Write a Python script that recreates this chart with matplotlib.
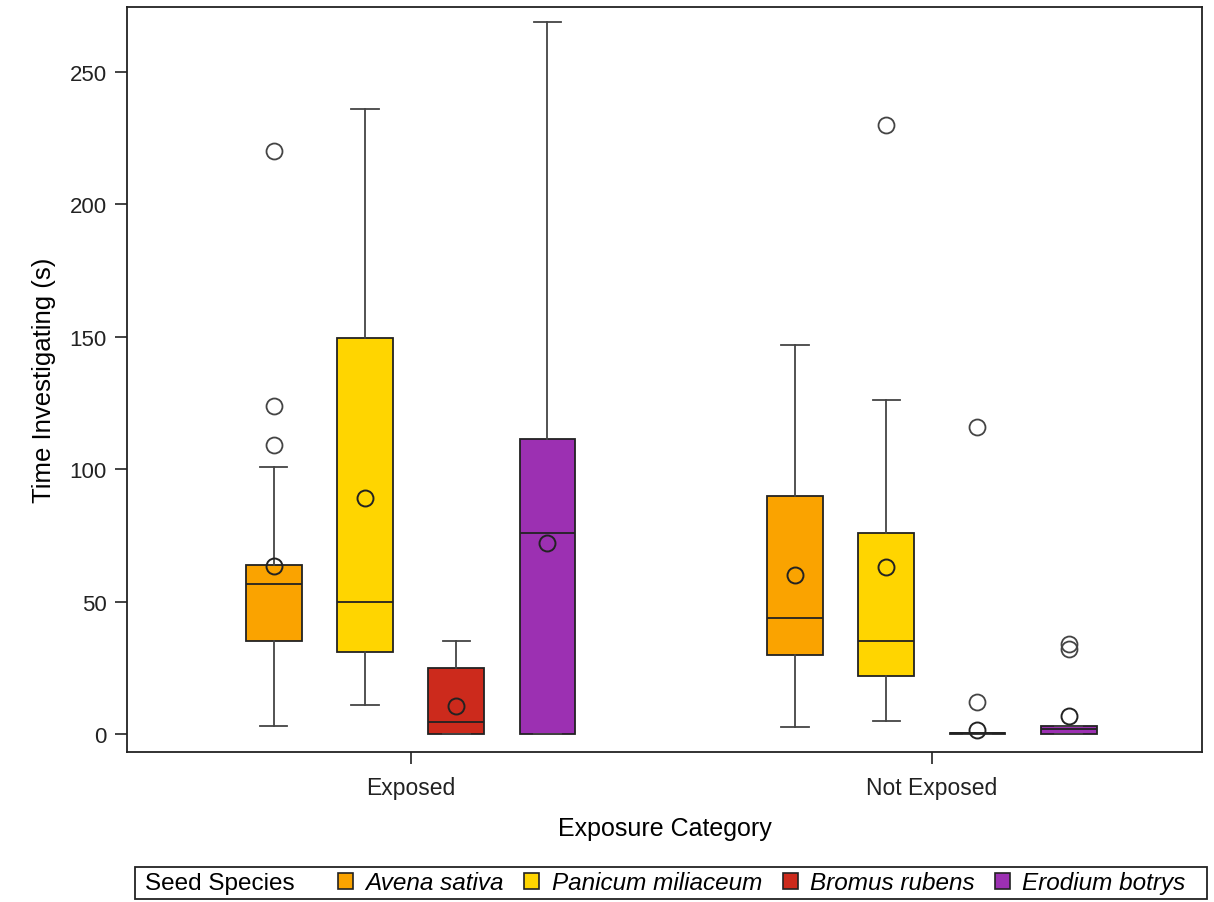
import matplotlib
matplotlib.use('Agg')
import matplotlib.pyplot as plt
from matplotlib.patches import Patch, Rectangle

plt.rcParams['font.family'] = ['Liberation Sans', 'DejaVu Sans']

categories = ['Exposed', 'Not Exposed']
species = ['Avena sativa', 'Panicum miliaceum', 'Bromus rubens', 'Erodium botrys']
colors = ['#FAA300', '#FFD500', '#CC2A1C', '#9C30B2']

# box statistics per category, one entry per species
whislo = [[3, 11, 0, 0], [2.5, 5, 0, 0]]
q1 = [[35, 31, 0, 0], [30, 22, 0, 0]]
med = [[56.5, 50, 4.5, 76], [44, 35, 0.3, 2]]
q3 = [[64, 149.5, 25, 111.5], [90, 76, 0.6, 3]]
whishi = [[101, 236, 35, 269], [147, 126, 0.6, 3]]
means = [[63.5, 89, 10.5, 72], [60, 63, 1.5, 7]]
fliers = [[[109, 124, 220], [], [], []], [[], [230], [12, 116], [32, 34]]]

fig, ax = plt.subplots(figsize=(12.14, 9.03), dpi=100)
fig.subplots_adjust(left=0.1046, right=0.990, top=0.991, bottom=0.166)

offsets = [-0.2625, -0.0875, 0.0875, 0.2625]
for ci in range(len(categories)):
    for si in range(len(species)):
        st = [{'whislo': whislo[ci][si], 'q1': q1[ci][si], 'med': med[ci][si],
               'q3': q3[ci][si], 'whishi': whishi[ci][si], 'mean': means[ci][si],
               'fliers': fliers[ci][si]}]
        ax.bxp(st, positions=[ci + offsets[si]], widths=0.107, patch_artist=True,
               showmeans=True, manage_ticks=False,
               boxprops=dict(facecolor=colors[si], edgecolor='#222222', linewidth=1.3),
               medianprops=dict(color='#222222', linewidth=1.3),
               whiskerprops=dict(color='#444444', linewidth=1.3),
               capprops=dict(color='#444444', linewidth=1.3),
               capwidths=0.052,
               meanprops=dict(marker='o', markerfacecolor='none', markeredgecolor='#222222',
                              markersize=11.5, markeredgewidth=1.4),
               flierprops=dict(marker='o', markerfacecolor='none', markeredgecolor='#444444',
                               markersize=11.5, markeredgewidth=1.3))

ax.set_xlim(-0.544, 1.518)
ax.set_ylim(-6.8, 274.5)
ax.set_xticks([0, 1])
ax.set_xticklabels(categories, fontsize=16.5)
ax.set_yticks([0, 50, 100, 150, 200, 250])
ax.tick_params(axis='y', labelsize=16, length=8.5, width=1.2, colors='#222222', pad=6)
ax.tick_params(axis='x', length=8.5, width=1.2, colors='#222222', pad=9)
for sp in ax.spines.values():
    sp.set_linewidth(1.3)
    sp.set_color('#222222')

ax.set_xlabel('Exposure Category', fontsize=18, labelpad=12)
ax.set_ylabel('Time Investigating (s)', fontsize=18.5, labelpad=10)

# legend: title sits inline with the entries, inside one frame
handles = [Patch(facecolor=c, edgecolor='#222222', linewidth=1.2) for c in colors]
leg = fig.legend(handles, species, loc='center left', bbox_to_anchor=(338 / 1214, 0.0211),
                 ncol=4, fontsize=17.5, frameon=False, handlelength=0.62,
                 handleheight=0.62, handletextpad=0.5, columnspacing=0.85,
                 borderpad=0, borderaxespad=0)
for t in leg.get_texts():
    t.set_fontstyle('italic')
fig.text(145 / 1214, 0.0211, 'Seed Species', fontsize=17.5, va='center', ha='left')
fig.patches.append(Rectangle((135 / 1214, 3 / 903), 1072 / 1214, 32 / 903,
                             transform=fig.transFigure, fill=False,
                             edgecolor='#222222', linewidth=1.3))

fig.savefig('out.png', dpi=100)
